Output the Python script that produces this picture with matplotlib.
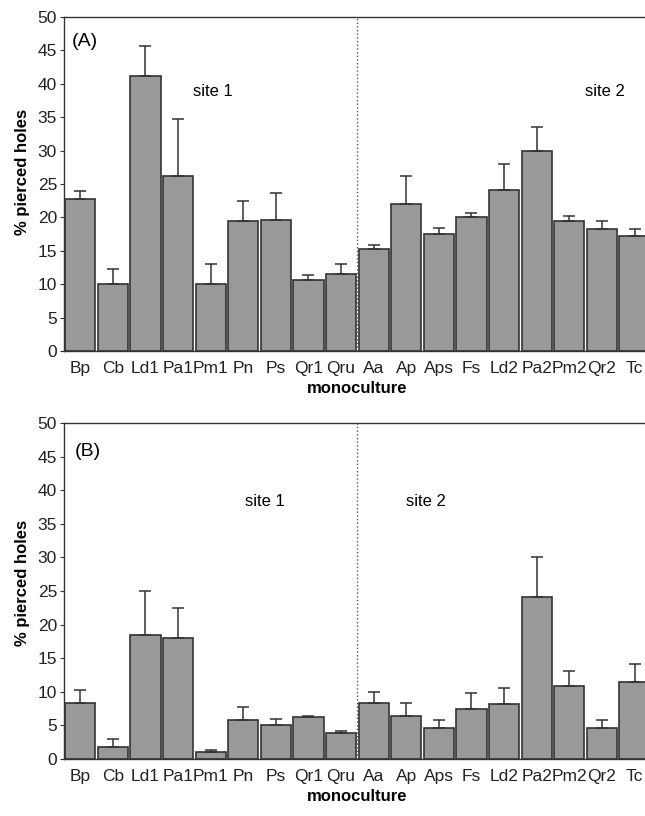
import numpy as np
import matplotlib
matplotlib.use("Agg")
import matplotlib.pyplot as plt

plt.rcParams['font.family'] = ['Liberation Sans', 'DejaVu Sans']

# monoculture codes (site 1: first nine, site 2: the rest)
labels = ["Bp", "Cb", "Ld1", "Pa1", "Pm1", "Pn", "Ps", "Qr1", "Qru",
          "Aa", "Ap", "Aps", "Fs", "Ld2", "Pa2", "Pm2", "Qr2", "Tc"]

# panel A: mean and top of error bar
meanA = [22.8, 10.0, 41.2, 26.2, 10.0, 19.4, 19.6, 10.6, 11.5,
         15.2, 22.0, 17.5, 20.0, 24.1, 29.9, 19.5, 18.3, 17.2]
topA = [24.0, 12.2, 45.6, 34.8, 13.0, 22.4, 23.6, 11.4, 13.0,
        15.8, 26.2, 18.4, 20.6, 28.0, 33.6, 20.2, 19.5, 18.3]

# panel B
meanB = [8.4, 1.8, 18.4, 18.0, 1.0, 5.8, 5.0, 6.2, 3.8,
         8.4, 6.4, 4.6, 7.4, 8.2, 24.1, 10.8, 4.6, 11.4]
topB = [10.2, 3.0, 25.0, 22.5, 1.4, 7.8, 6.0, 6.4, 4.2,
        9.9, 8.4, 5.75, 9.8, 10.6, 30.1, 13.1, 5.75, 14.1]

fig = plt.figure(figsize=(6.45, 8.16), dpi=100)
axA = fig.add_axes([0.0992, 0.5699, 0.9098, 0.4093])
axB = fig.add_axes([0.0992, 0.0699, 0.9098, 0.4118])

panels = [
    (axA, meanA, topA, "(A)", (-0.25, 46.3), (3.46, 38.8), (15.48, 38.8), 0.536),
    (axB, meanB, topB, "(B)", (-0.16, 45.7), (5.05, 38.3), (10.0, 38.3), 0.525),
]

x = np.arange(len(labels))
for ax, mean, top, tag, tagpos, s1pos, s2pos, ylab_y in panels:
    mean = np.array(mean)
    err = np.array(top) - mean
    ax.bar(x, mean, width=0.93, color="#999999", edgecolor="#333333",
           linewidth=1.2, zorder=2)
    ax.errorbar(x, mean, yerr=[np.zeros_like(err), err], fmt="none",
                ecolor="#333333", elinewidth=1.1, capsize=4, capthick=1.1,
                zorder=3)
    ax.axvline(8.5, color="#555555", linestyle=":", linewidth=1.0, zorder=1)
    ax.set_xlim(-0.5, len(labels) - 0.5)
    ax.set_ylim(0, 50)
    ax.set_yticks(np.arange(0, 51, 5))
    ax.set_xticks(x)
    ax.set_xticklabels(labels, fontsize=12.5, color="#222222")
    ax.tick_params(axis="x", length=0, pad=7)
    ax.tick_params(axis="y", direction="out", length=3, width=0.8,
                   labelsize=12.5, pad=2, color="#333333",
                   labelcolor="#222222")
    for sp in ax.spines.values():
        sp.set_color("#333333")
        sp.set_linewidth(1.0)
    ax.set_ylabel("% pierced holes", fontsize=12, fontweight="bold")
    ax.yaxis.set_label_coords(-0.058, ylab_y)
    ax.set_xlabel("monoculture", fontsize=12, fontweight="bold",
                  labelpad=4)
    ax.text(tagpos[0], tagpos[1], tag, fontsize=14, va="center", ha="left")
    ax.text(s1pos[0], s1pos[1], "site 1", fontsize=12, va="center",
            ha="left")
    ax.text(s2pos[0], s2pos[1], "site 2", fontsize=12, va="center",
            ha="left")

fig.savefig("out.png", dpi=100)
